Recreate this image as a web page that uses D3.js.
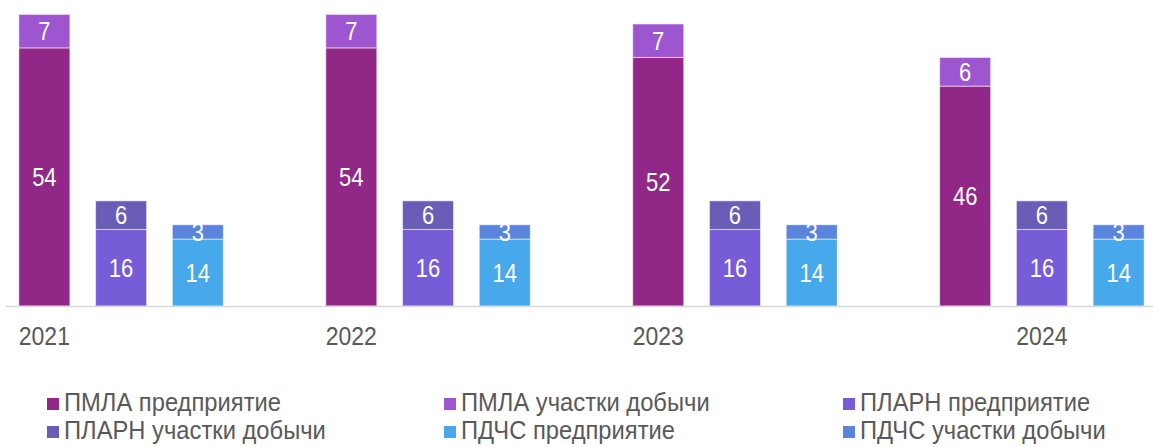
<!DOCTYPE html>
<html>
<head>
<meta charset="utf-8">
<script src="https://cdn.jsdelivr.net/npm/d3@7/dist/d3.min.js"></script>
<style>
  html, body { margin: 0; padding: 0; background: #fff; }
  svg { display: block; font-family: "Liberation Sans", Arial, sans-serif; }
</style>
</head>
<body>
<svg id="chart" width="1153" height="447"></svg>
<script>
// Years and the three plans shown per year
const years = ["2021", "2022", "2023", "2024"];
const plans = ["ПМЛА", "ПЛАРН", "ПДЧС"];

// Values per year: enterprise (bottom) and production sites (top)
const pmlaEnterprise = [54, 54, 52, 46];
const pmlaSites      = [7, 7, 7, 6];
const plarnEnterprise = [16, 16, 16, 16];
const plarnSites      = [6, 6, 6, 6];
const pdchsEnterprise = [14, 14, 14, 14];
const pdchsSites      = [3, 3, 3, 3];

// Legend entries in display order
const seriesNames = [
  "ПМЛА предприятие", "ПМЛА участки добычи", "ПЛАРН предприятие",
  "ПЛАРН участки добычи", "ПДЧС предприятие", "ПДЧС участки добычи"
];

// Which slot of a year's group carries the year label
const yearLabelSlot = [0, 0, 0, 1];

const colors = {
  "ПМЛА предприятие": "#912887",
  "ПМЛА участки добычи": "#9d56d0",
  "ПЛАРН предприятие": "#775cd8",
  "ПЛАРН участки добычи": "#6a5db8",
  "ПДЧС предприятие": "#47a8ec",
  "ПДЧС участки добычи": "#5b84dc"
};

const enterprise = [pmlaEnterprise, plarnEnterprise, pdchsEnterprise];
const sites = [pmlaSites, plarnSites, pdchsSites];

// Slots: every year has three columns plus one empty gap slot (none after the last year)
const slots = [];
years.forEach((y, yi) => {
  for (let p = 0; p < 4; p++) {
    if (p === 3 && yi === years.length - 1) break;
    slots.push(`${y}-${p}`);
  }
});

const svg = d3.select("#chart");
const baseY = 306;

const x = d3.scaleBand()
  .domain(slots)
  .range([6, 1157])
  .paddingInner(0.335)
  .paddingOuter(0.1675);

const y = d3.scaleLinear().domain([0, 64]).range([baseY, baseY - 64 * 4.78]);

// Build stacked segments
const segments = [];
years.forEach((yr, yi) => {
  plans.forEach((plan, pi) => {
    const low = enterprise[pi][yi];
    const high = sites[pi][yi];
    segments.push({ slot: `${yr}-${pi}`, y0: 0, y1: low, v: low, name: seriesNames[pi * 2] });
    segments.push({ slot: `${yr}-${pi}`, y0: low, y1: low + high, v: high, name: seriesNames[pi * 2 + 1] });
  });
});

const g = svg.append("g");

g.selectAll("rect.seg")
  .data(segments)
  .join("rect")
  .attr("class", "seg")
  .attr("x", d => x(d.slot))
  .attr("width", x.bandwidth())
  .attr("y", d => y(d.y1))
  .attr("height", d => y(d.y0) - y(d.y1))
  .attr("fill", d => colors[d.name])
  .attr("stroke", "rgba(255,255,255,0.55)")
  .attr("stroke-width", 1);

// Value labels, slightly narrowed glyphs
g.selectAll("text.val")
  .data(segments)
  .join("text")
  .attr("class", "val")
  .attr("transform", d =>
    `translate(${x(d.slot) + x.bandwidth() / 2},${(y(d.y0) + y(d.y1)) / 2 + 9}) scale(0.88,1)`)
  .attr("text-anchor", "middle")
  .attr("fill", "#fff")
  .attr("font-size", 25)
  .text(d => d.v);

// Category axis line
svg.append("line")
  .attr("x1", 6).attr("x2", 1153)
  .attr("y1", baseY + 0.5).attr("y2", baseY + 0.5)
  .attr("stroke", "#d9d9d9")
  .attr("stroke-width", 1.5);

// Year labels
svg.selectAll("text.year")
  .data(years)
  .join("text")
  .attr("class", "year")
  .attr("transform", (d, i) =>
    `translate(${x(`${d}-${yearLabelSlot[i]}`) + x.bandwidth() / 2},345) scale(0.92,1)`)
  .attr("text-anchor", "middle")
  .attr("fill", "#595959")
  .attr("font-size", 25)
  .text(d => d);

// Legend: two rows, three columns
const legendX = [47, 444, 843];
const legendY = [411, 439];
const legend = svg.selectAll("g.leg")
  .data(seriesNames)
  .join("g")
  .attr("class", "leg")
  .attr("transform", (d, i) => `translate(${legendX[i % 3]},${legendY[Math.floor(i / 3)]})`);

legend.append("rect")
  .attr("x", 0).attr("y", -13)
  .attr("width", 12).attr("height", 12)
  .attr("fill", d => colors[d]);

legend.append("text")
  .attr("transform", "translate(17,0) scale(0.95,1)")
  .attr("fill", "#595959")
  .attr("font-size", 25)
  .text(d => d);
</script>
</body>
</html>
